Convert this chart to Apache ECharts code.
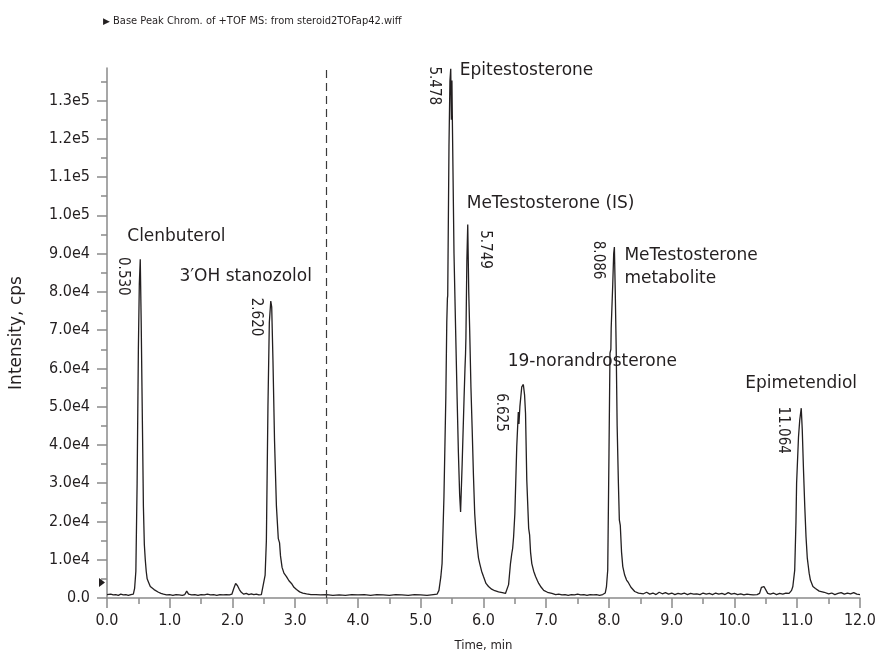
<!DOCTYPE html>
<html>
<head>
<meta charset="utf-8">
<title>Base Peak Chromatogram</title>
<script src="https://cdn.jsdelivr.net/npm/echarts@6/dist/echarts.min.js"></script>
<style>
  html, body { margin: 0; padding: 0; background: #fff; }
  #chart { width: 879px; height: 657px; }
</style>
</head>
<body>
<div id="chart"></div>
<script>
// chromatogram trace (time in min, intensity in cps)
var timeMin = [
  0.00, 0.03, 0.06, 0.10, 0.14, 0.18, 0.22, 0.26, 0.30, 0.34, 0.38, 0.42,
  0.44, 0.46, 0.48, 0.50, 0.515, 0.530, 0.545, 0.555, 0.57, 0.58, 0.595, 0.61, 0.625, 0.64, 0.66, 0.69, 0.72, 0.75, 0.78, 0.82, 0.86, 0.90,
  0.95, 1.00, 1.05, 1.10, 1.15, 1.20, 1.24, 1.27, 1.30, 1.35, 1.40, 1.45, 1.50, 1.55, 1.60, 1.65, 1.70, 1.75, 1.80, 1.85, 1.90, 1.95,
  1.99, 2.02, 2.05, 2.08, 2.11, 2.14, 2.18, 2.22, 2.26, 2.30, 2.34, 2.38, 2.42, 2.46, 2.49,
  2.52, 2.54, 2.565, 2.587, 2.61, 2.625, 2.645, 2.67, 2.70, 2.73, 2.75, 2.765, 2.79, 2.82, 2.86, 2.90, 2.94, 2.98, 3.02, 3.07, 3.12, 3.18, 3.25, 3.33,
  3.40, 3.50, 3.60, 3.70, 3.80, 3.90, 4.00, 4.10, 4.20, 4.30, 4.40, 4.50, 4.60, 4.70, 4.80, 4.90, 5.00, 5.10, 5.20, 5.26,
  5.29, 5.32, 5.34, 5.37, 5.40, 5.415, 5.425, 5.43, 5.45, 5.465, 5.478, 5.488, 5.497, 5.505, 5.53, 5.556, 5.58, 5.60, 5.62, 5.635,
  5.66, 5.69, 5.705, 5.714, 5.72, 5.735, 5.749, 5.765, 5.78, 5.80, 5.82, 5.84, 5.86, 5.88, 5.90, 5.92, 5.94, 5.97, 6.00, 6.04, 6.08, 6.13, 6.18, 6.24, 6.30, 6.35, 6.375,
  6.40, 6.43, 6.45, 6.465, 6.48, 6.50, 6.53, 6.555, 6.565, 6.58, 6.61, 6.635, 6.655, 6.67, 6.69, 6.72, 6.735, 6.75, 6.77, 6.80, 6.83, 6.86, 6.88, 6.92, 6.96, 7.02, 7.09,
  7.15, 7.20, 7.25, 7.30, 7.35, 7.40, 7.45, 7.50, 7.55, 7.60, 7.65, 7.70, 7.75, 7.80, 7.85, 7.90, 7.94,
  7.96, 7.98, 8.00, 8.016, 8.03, 8.035, 8.06, 8.075, 8.086, 8.10, 8.115, 8.13, 8.15, 8.165, 8.18, 8.20, 8.22, 8.25, 8.28, 8.31, 8.35, 8.41, 8.47,
  8.55, 8.60, 8.65, 8.70, 8.75, 8.80, 8.85, 8.90, 8.95, 9.00, 9.05, 9.10, 9.15, 9.20, 9.25, 9.30, 9.35, 9.40, 9.45, 9.50,
  9.55, 9.60, 9.65, 9.70, 9.75, 9.80, 9.85, 9.90, 9.95, 10.00, 10.05, 10.10, 10.15, 10.20, 10.25, 10.30, 10.36,
  10.40, 10.43, 10.47, 10.50, 10.53, 10.57, 10.62, 10.67, 10.72, 10.77, 10.82, 10.87, 10.91,
  10.93, 10.96, 10.98, 10.99, 11.00, 11.02, 11.04, 11.064, 11.08, 11.10, 11.12, 11.14, 11.16, 11.175, 11.19, 11.21, 11.25, 11.29, 11.35, 11.43,
  11.50, 11.55, 11.60, 11.65, 11.70, 11.75, 11.80, 11.85, 11.90, 11.95, 12.00
];
var intensityCps = [
  900, 700, 1000, 800, 900, 700, 1000, 800, 900, 700, 900, 1000,
  2500, 7000, 30000, 65000, 82000, 88500, 72000, 58000, 38000, 24000, 14000, 10000, 7000, 5000, 4200, 3000, 2500, 2200, 1800, 1500, 1200, 1000,
  800, 900, 700, 900, 800, 700, 900, 1800, 1000, 800, 900, 700, 900, 800, 1000, 800, 900, 700, 900, 800, 900, 800,
  1000, 2500, 3800, 3200, 2200, 1500, 1000, 1200, 900, 1100, 900, 1000, 800, 900, 1200,
  6000, 15000, 50000, 72000, 77600, 76000, 62000, 41000, 24000, 15500, 14400, 11000, 8000, 6500, 5600, 4500, 3800, 2800, 2200, 1600, 1300, 1100, 900, 900,
  800, 900, 700, 800, 700, 900, 800, 900, 700, 900, 800, 700, 900, 800, 700, 900, 800, 700, 900, 1000,
  2000, 5500, 9000, 26500, 52600, 72000, 78300, 79000, 118000, 135000, 138300, 125000, 135200, 123500, 90000, 70000, 52000, 38000, 27000, 22500,
  35000, 52000, 60000, 63900, 68000, 88000, 97600, 80000, 70000, 55000, 43900, 32000, 22100, 17000, 13400, 10500, 9000, 7000, 5600, 3800, 3000, 2300, 1900, 1600, 1400, 1200, 1200,
  3500, 9000, 11500, 13000, 16000, 22100, 39500, 48600, 45500, 50000, 55200, 55800, 53000, 48200, 30800, 18200, 16500, 12000, 9000, 7000, 5600, 4500, 3800, 2800, 2000, 1500, 1200,
  900, 1000, 800, 900, 700, 900, 800, 1000, 800, 900, 700, 900, 800, 900, 700, 900, 1300,
  3000, 7300, 37800, 64000, 65000, 70500, 82000, 90000, 91700, 80000, 65000, 45000, 30000, 20400, 19000, 12000, 8200, 6000, 4700, 4000, 2800, 1700, 1300,
  1100, 1500, 1000, 1300, 900, 1500, 1100, 1400, 1000, 1300, 900, 1200, 1000, 1300, 900, 1200, 1000, 1100, 900, 1300,
  1000, 1200, 900, 1300, 1000, 1200, 900, 1400, 1000, 1200, 900, 1100, 800, 1000, 900, 800, 900,
  1200, 2800, 3000, 2600, 1200, 1000, 1300, 900, 1200, 1000, 1300, 1200, 2000,
  3000, 7300, 20000, 30000, 30500, 42000, 46500, 49600, 44000, 33400, 24000, 16000, 10500, 8500, 6500, 4700, 3000, 2500, 1800, 1500,
  1100, 1300, 900, 1200, 1400, 1000, 1300, 1100, 1400, 1000, 900
];

// labelled peaks
var peakTimes = [0.530, 2.620, 5.478, 5.749, 6.625, 8.086, 11.064];
var peakApex = [88500, 77600, 138300, 97600, 55800, 91700, 49600];
var compoundNames = [
  'Clenbuterol', '3\u2032OH stanozolol', 'Epitestosterone', 'MeTestosterone (IS)',
  '19-norandrosterone', 'MeTestosterone\nmetabolite', 'Epimetendiol'
];

// axis ticks
var xMajorTicks = [0, 1, 2, 3, 4, 5, 6, 7, 8, 9, 10, 11, 12];
var xMinorTicks = [0.5, 1.5, 2.5, 3.5, 4.5, 5.5, 6.5, 7.5, 8.5, 9.5, 10.5, 11.5];
var yMajorTicks = [0, 10000, 20000, 30000, 40000, 50000, 60000, 70000, 80000, 90000, 100000, 110000, 120000, 130000];
var yMinorTicks = [5000, 15000, 25000, 35000, 45000, 55000, 65000, 75000, 85000, 95000, 105000, 115000, 125000, 135000];
var cutTime = 3.5;
var markerLevel = 4050;

// label placement, screen pixels from the peak apex
var rtOffsets = [[-17, 17], [-16, 16], [-17, 17], [17, 25], [-22, 28], [-16, 13], [-18, 22]];
var nameOffsets = [[-13, -23], [-92, -24], [9, 2], [-1, -21], [-15, -23], [10, 20], [-56, -25]];

var INK = '#231f20';
var AXIS = '#8a8a8a';
var COND = '"DejaVu Sans Condensed", "Liberation Sans Narrow", sans-serif';

function sciLabel(v) {
  if (v === 0) return '0.0';
  var e = Math.floor(Math.log10(v) + 1e-9);
  return (v / Math.pow(10, e)).toFixed(1) + 'e' + e;
}

var trace = timeMin.map(function (t, i) { return [t, intensityCps[i]]; });

// offsets of a rotated label are taken in its own (turned) frame
var rtData = peakTimes.map(function (t, i) {
  var o = rtOffsets[i];
  return {
    value: [t, peakApex[i]],
    label: { offset: [o[1], -o[0]], formatter: t.toFixed(3) }
  };
});
var nameData = peakTimes.map(function (t, i) {
  return {
    value: [t, peakApex[i]],
    label: { offset: nameOffsets[i], formatter: compoundNames[i] }
  };
});

var myChart = echarts.init(document.getElementById('chart'), null, { renderer: 'canvas' });

var yMax = 138500;

var option = {
  animation: false,
  backgroundColor: '#fff',
  title: {
    left: 98,
    top: 11,
    text: '{tri|\u25B6} Base Peak Chrom. of +TOF MS: from steroid2TOFap42.wiff',
    textStyle: {
      color: INK,
      fontWeight: 'normal',
      fontSize: 11,
      fontFamily: COND,
      rich: {
        tri: { fontSize: 9, color: INK, fontFamily: 'DejaVu Sans' }
      }
    }
  },
  grid: { left: 107, right: 16, top: 68, bottom: 59 },
  xAxis: [
    {
      type: 'value',
      min: 0,
      max: 12,
      interval: 1,
      name: 'Time, min',
      nameLocation: 'middle',
      nameGap: 41,
      nameTextStyle: { color: INK, fontSize: 13, fontFamily: COND },
      axisLine: { show: true, onZero: false, lineStyle: { color: AXIS, width: 1.5 } },
      axisTick: { show: true, length: 10, customValues: xMajorTicks, lineStyle: { color: AXIS, width: 1.5 } },
      axisLabel: {
        customValues: xMajorTicks,
        margin: 15,
        color: INK,
        fontSize: 16,
        fontFamily: COND,
        formatter: function (v) { return v.toFixed(1); }
      },
      splitLine: { show: false }
    },
    {
      type: 'value',
      position: 'bottom',
      min: 0,
      max: 12,
      interval: 1,
      axisLine: { show: false },
      axisTick: { show: true, length: 6, customValues: xMinorTicks, lineStyle: { color: AXIS, width: 1.5 } },
      axisLabel: { show: false },
      splitLine: { show: false }
    }
  ],
  yAxis: [
    {
      type: 'value',
      min: 0,
      max: yMax,
      name: 'Intensity, cps',
      nameLocation: 'middle',
      nameGap: 82,
      nameTextStyle: { color: INK, fontSize: 17, fontFamily: 'DejaVu Sans, sans-serif' },
      axisLine: { show: true, onZero: false, lineStyle: { color: AXIS, width: 1.5 } },
      axisTick: { show: true, length: 10, customValues: yMajorTicks, lineStyle: { color: AXIS, width: 1.5 } },
      axisLabel: {
        customValues: yMajorTicks,
        margin: 17,
        color: INK,
        fontSize: 16,
        fontFamily: COND,
        formatter: sciLabel
      },
      splitLine: { show: false }
    },
    {
      type: 'value',
      position: 'left',
      min: 0,
      max: yMax,
      axisLine: { show: false },
      axisTick: { show: true, length: 6, customValues: yMinorTicks, lineStyle: { color: AXIS, width: 1.5 } },
      axisLabel: { show: false },
      splitLine: { show: false }
    }
  ],
  series: [
    {
      name: 'BPC',
      type: 'line',
      data: trace,
      showSymbol: false,
      symbol: 'none',
      clip: false,
      lineStyle: { color: INK, width: 1.3 },
      z: 3,
      markLine: {
        silent: true,
        symbol: 'none',
        label: { show: false },
        lineStyle: { color: '#3a3a3a', type: [8, 5], width: 1.2 },
        data: [{ xAxis: cutTime }]
      },
      markPoint: {
        silent: true,
        symbol: 'triangle',
        symbolRotate: -90,
        symbolSize: [9, 6],
        symbolOffset: [-5, 0],
        itemStyle: { color: INK },
        label: { show: false },
        data: [{ coord: [0, markerLevel] }]
      }
    },
    {
      name: 'rt',
      type: 'scatter',
      data: rtData,
      symbolSize: 0,
      silent: true,
      z: 4,
      itemStyle: { opacity: 1 },
      label: {
        show: true,
        position: 'inside',
        rotate: -90,
        align: 'center',
        verticalAlign: 'middle',
        color: INK,
        opacity: 1,
        fontSize: 15,
        fontFamily: COND
      }
    },
    {
      name: 'compound',
      type: 'scatter',
      data: nameData,
      symbolSize: 0,
      silent: true,
      z: 4,
      itemStyle: { opacity: 1 },
      label: {
        show: true,
        position: 'inside',
        align: 'left',
        verticalAlign: 'middle',
        color: INK,
        opacity: 1,
        fontSize: 17,
        lineHeight: 23,
        fontFamily: 'DejaVu Sans, sans-serif'
      }
    }
  ]
};

myChart.setOption(option);
</script>
</body>
</html>
